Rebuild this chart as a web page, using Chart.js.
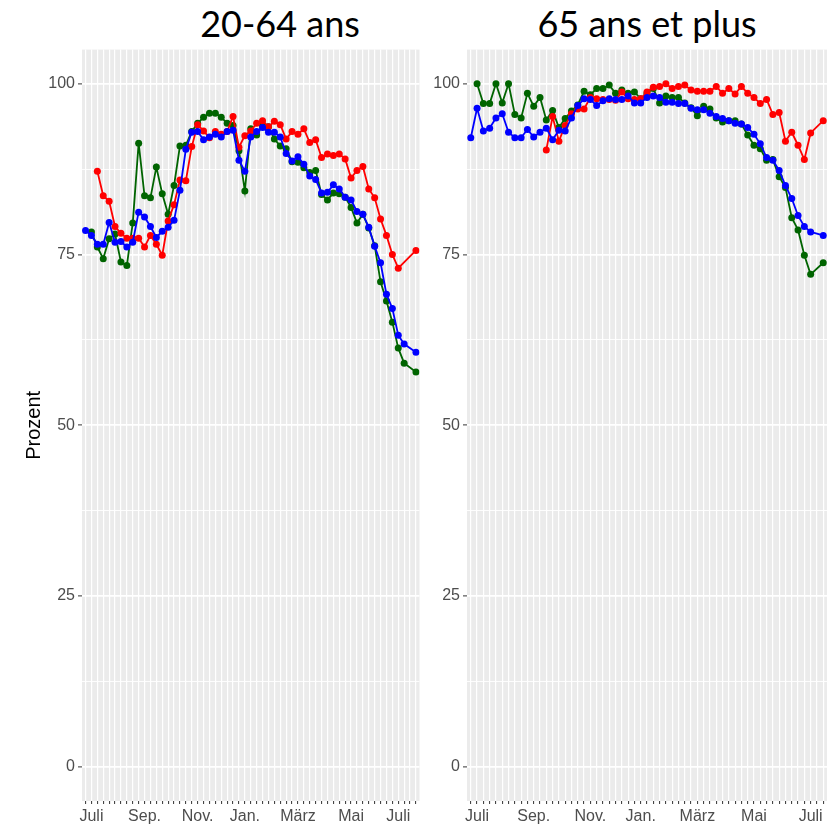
<!DOCTYPE html>
<html>
<head>
<meta charset="utf-8">
<script src="https://cdn.jsdelivr.net/npm/chart.js@4"></script>
<style>
  body { margin: 0; background: #fff; width: 835px; height: 826px; position: relative; overflow: hidden; }
  .titel { position: absolute; top: 1px; font-family: Lato, 'Open Sans', sans-serif; font-size: 36px; color: #000; white-space: nowrap; transform: translateX(-50%); }
  .box { position: absolute; top: 37px; height: 789px; }
</style>
</head>
<body>
<div class="titel" style="left:280px">20-64 ans</div>
<div class="titel" style="left:647px">65 ans et plus</div>
<div class="box" style="left:0;width:425px"><canvas id="chart1"></canvas></div>
<div class="box" style="left:420px;width:415px"><canvas id="chart2"></canvas></div>
<script>
// --- Data (weekly values, index 0 = last week of June) ---
const wochen = Array.from({ length: 57 }, (_, i) => i);

const monatLabels = ['Juli', 'Sep.', 'Nov.', 'Jan.', 'März', 'Mai', 'Juli'];
const monatWochen20 = [1, 10, 19, 27, 36, 45, 53];
const monatWochen65 = [1, 10, 19, 27, 36, 45, 54];

const yTicks = [0, 12.5, 25, 37.5, 50, 62.5, 75, 87.5, 100];

// 20-64 ans
const rot20 = [null, null, 87.2, 83.6, 82.8, 79.1, 78.1, 77.4, 77.4, 77.4,
  76.1, 77.8, 76.5, 74.9, 79.9, 82.3, 85.9, 85.8, 90.8, 94.0,
  93.1, 92.1, 93.0, 92.6, 93.0, 95.2, 90.7, 92.4, 93.1, 94.2,
  94.6, 93.7, 94.5, 94.0, 91.9, 93.0, 92.6, 93.4, 91.4, 91.8,
  89.2, 89.7, 89.5, 89.7, 89.0, 86.2, 87.3, 87.9, 84.6, 83.3,
  80.2, 77.8, 75.0, 73.0, null, null, 75.6];
const blau20 = [78.5, 77.8, 76.5, 76.5, 79.7, 76.8, 76.9, 76.1, 76.8, 81.2,
  80.5, 79.1, 77.5, 78.4, 79.0, 80.0, 84.4, 90.4, 92.9, 93.0,
  91.8, 92.2, 92.6, 92.2, 93.0, 93.2, 88.8, 87.2, 92.2, 93.0,
  93.6, 92.9, 92.9, 92.2, 89.8, 88.7, 89.3, 88.2, 86.5, 86.0,
  84.0, 84.1, 85.2, 84.6, 83.4, 83.0, 81.3, 80.9, 79.0, 76.2,
  73.8, 69.2, 67.1, 63.2, 61.9, null, 60.7];
const gruen20 = [null, 78.3, 76.1, 74.4, 77.3, 78.0, 73.9, 73.4, 79.6, 91.3,
  83.6, 83.3, 87.8, 83.9, 80.9, 85.1, 90.9, 91.0, 93.0, 94.2,
  95.1, 95.7, 95.7, 95.1, 94.2, 93.9, 90.2, 84.3, 93.4, 92.5,
  93.9, 93.7, 91.9, 90.9, 90.5, 88.6, 88.5, 87.7, 87.0, 87.3,
  83.8, 83.0, 84.0, 83.9, 83.4, 81.9, 79.6, 80.9, 78.9, 76.3,
  71.0, 68.2, 65.1, 61.3, 59.1, null, 57.8];

// 65 ans et plus
const rot65 = [null, null, null, null, null, null, null, null, null, null,
  null, null, 90.3, 95.2, 91.6, 93.9, 95.6, 96.3, 96.3, 98.0,
  97.8, 97.7, 97.7, 97.6, 98.8, 97.8, 97.7, 97.8, 98.8, 99.5,
  99.6, 100.0, 99.3, 99.6, 99.8, 99.1, 98.9, 98.9, 98.9, 99.6,
  98.6, 99.3, 98.5, 99.6, 98.6, 98.0, 97.1, 97.7, 95.5, 95.8,
  91.6, 92.9, 91.0, 88.9, 92.8, null, 94.6];
const blau65 = [92.1, 96.4, 93.1, 93.5, 95.0, 95.6, 92.9, 92.1, 92.1, 93.3,
  92.2, 92.9, 93.5, 91.8, 93.2, 93.1, 95.0, 96.8, 97.8, 97.7,
  96.8, 97.5, 97.8, 97.7, 97.7, 98.2, 97.2, 97.2, 98.0, 98.2,
  98.0, 97.3, 97.3, 97.1, 97.1, 96.4, 96.2, 96.2, 95.7, 95.2,
  94.9, 94.6, 94.2, 94.1, 93.6, 92.6, 91.2, 89.2, 88.8, 87.3,
  85.1, 83.2, 80.7, 79.1, 78.3, null, 77.8];
const gruen65 = [null, 100.0, 97.1, 97.1, 100.0, 97.2, 100.0, 95.5, 95.0, 98.6,
  96.7, 98.0, 94.7, 96.1, 93.6, 94.9, 96.0, 96.9, 98.9, 98.4,
  99.3, 99.3, 99.8, 98.6, 99.1, 98.6, 98.8, 97.8, 98.6, 99.3,
  97.2, 98.2, 98.0, 98.0, 97.2, 96.5, 95.3, 96.7, 96.3, 95.0,
  94.4, 94.6, 94.6, 94.1, 92.5, 91.0, 90.5, 88.8, 88.9, 86.4,
  84.8, 80.4, 78.6, 74.9, 72.1, null, 73.8];

// grey ggplot-like panel behind the grid
const panelBg = {
  id: 'panelBg',
  beforeDraw(chart) {
    const { ctx, chartArea: a } = chart;
    ctx.save();
    ctx.fillStyle = '#EBEBEB';
    ctx.fillRect(a.left, a.top, a.right - a.left, a.bottom - a.top);
    ctx.restore();
  }
};

function serie(data, color) {
  return {
    data: data,
    borderColor: color,
    backgroundColor: color,
    borderWidth: 1.8,
    pointRadius: 3.5,
    pointBorderWidth: 0,
    pointBackgroundColor: color,
    spanGaps: true,
    tension: 0
  };
}

function makeChart(id, rot, blau, gruen, monatWochen, yWidth, showTitle, padRight) {
  const ctx = document.getElementById(id).getContext('2d');
  return new Chart(ctx, {
    type: 'line',
    data: {
      labels: wochen,
      // first dataset is drawn on top
      datasets: [serie(blau, '#0000FF'), serie(rot, '#FF0000'), serie(gruen, '#006400')]
    },
    options: {
      responsive: true,
      maintainAspectRatio: false,
      animation: false,
      layout: { padding: { top: 9, right: padRight, left: 0, bottom: 0 } },
      plugins: { legend: { display: false }, tooltip: { enabled: false } },
      scales: {
        x: {
          type: 'linear',
          min: -0.6,
          max: 56.6,
          afterBuildTicks: axis => { axis.ticks = wochen.map(v => ({ value: v })); },
          afterFit: axis => { axis.height = 25; },
          border: { display: false },
          grid: { color: '#FFFFFF', lineWidth: 1.2, tickLength: 3, tickColor: '#333333', tickWidth: 1 },
          ticks: {
            autoSkip: false,
            maxRotation: 0,
            padding: 3,
            color: '#4D4D4D',
            font: { family: "'Liberation Sans', Arial, sans-serif", size: 16 },
            callback: v => {
              const k = monatWochen.indexOf(v);
              return k >= 0 ? monatLabels[k] : '';
            }
          }
        },
        y: {
          min: -5,
          max: 105,
          afterBuildTicks: axis => { axis.ticks = yTicks.map(v => ({ value: v, gross: v % 25 === 0 })); },
          afterFit: axis => { axis.width = yWidth; },
          border: { display: false },
          grid: {
            color: '#FFFFFF',
            lineWidth: c => (c.tick && c.tick.gross ? 1.8 : 0.9),
            tickLength: 4,
            tickColor: c => (c.tick && c.tick.gross ? '#333333' : 'rgba(0,0,0,0)'),
            tickWidth: 1
          },
          ticks: {
            autoSkip: false,
            padding: 3,
            color: '#4D4D4D',
            font: { family: "'Liberation Sans', Arial, sans-serif", size: 16 },
            callback: v => (v % 25 === 0 ? String(v) : '')
          },
          title: {
            display: showTitle,
            text: 'Prozent',
            color: '#000000',
            font: { family: "'Liberation Sans', Arial, sans-serif", size: 20 },
            padding: { top: 22, bottom: 0 }
          }
        }
      }
    },
    plugins: [panelBg]
  });
}

makeChart('chart1', rot20, blau20, gruen20, monatWochen20, 82, true, 5.5);
makeChart('chart2', rot65, blau65, gruen65, monatWochen65, 47, false, 8);
</script>
</body>
</html>
